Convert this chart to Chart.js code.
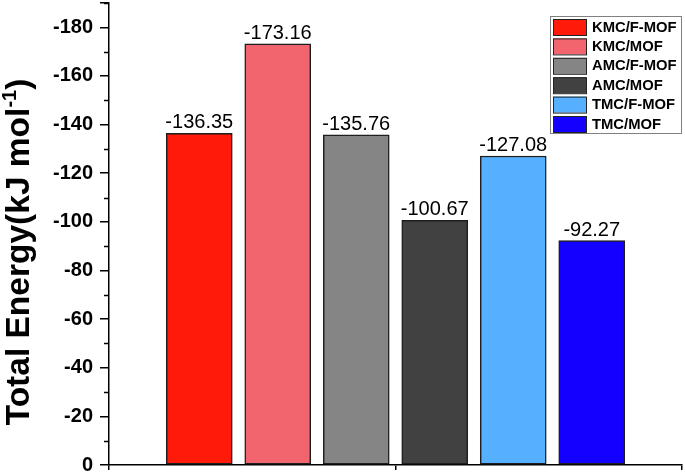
<!DOCTYPE html>
<html>
<head>
<meta charset="utf-8">
<script src="https://cdn.jsdelivr.net/npm/chart.js@4/dist/chart.umd.min.js"></script>
<style>
  html, body { margin: 0; padding: 0; background: #fff; }
  #wrap { width: 685px; height: 475px; }
</style>
</head>
<body>
<div id="wrap"><canvas id="chart"></canvas></div>
<script>
const FONT = "Arial, 'Liberation Sans', sans-serif";

// data
const labels = ['KMC/F-MOF', 'KMC/MOF', 'AMC/F-MOF', 'AMC/MOF', 'TMC/F-MOF', 'TMC/MOF'];
const energies = [-136.35, -173.16, -135.76, -100.67, -127.08, -92.27];
const positions = [1, 2, 3, 4, 5, 6];
const colors = ['#ff1a0a', '#f2646e', '#858585', '#414141', '#56b0ff', '#1400ff'];
const yMin = -190, yMax = 0;
const xTicks = [-0.15, 3.5, 7.15];

const datasets = labels.map((name, i) => ({
  label: name,
  data: [{ x: positions[i], y: energies[i] }],
  backgroundColor: colors[i],
  borderColor: '#1e1e1e',
  borderWidth: 1.5,
  borderSkipped: false,
  barThickness: 66,
  grouped: false,
}));

// value labels, minor ticks, title, legend box
const extras = {
  id: 'extras',
  afterDatasetsDraw(chart) {
    const { ctx } = chart;
    const ys = chart.scales.y;
    ctx.save();
    ctx.fillStyle = '#000';
    ctx.font = '20px ' + FONT;
    ctx.textAlign = 'center';
    ctx.textBaseline = 'alphabetic';
    chart.data.datasets.forEach((ds, i) => {
      const el = chart.getDatasetMeta(i).data[0];
      ctx.fillText(ds.data[0].y.toFixed(2), el.x, el.y - 5);
    });

    // minor ticks
    ctx.strokeStyle = '#000';
    ctx.lineWidth = 1.5;
    for (let v = yMin; v < yMax; v += 20) {
      const py = Math.round(ys.getPixelForValue(v)) + 0.5;
      ctx.beginPath();
      ctx.moveTo(ys.right - 5, py);
      ctx.lineTo(ys.right, py);
      ctx.stroke();
    }

    // axis title with superscript
    ctx.translate(29, 252);
    ctx.rotate(-Math.PI / 2);
    const main = 'Total Energy(kJ mol';
    const sup = '-1';
    const close = ')';
    ctx.font = 'bold 33.5px ' + FONT;
    const w1 = ctx.measureText(main).width;
    const w3 = ctx.measureText(close).width;
    ctx.font = 'bold 20px ' + FONT;
    const w2 = ctx.measureText(sup).width;
    let x = -(w1 + w2 + w3) / 2;
    ctx.textAlign = 'left';
    ctx.font = 'bold 33.5px ' + FONT;
    ctx.fillText(main, x, 0);
    x += w1;
    ctx.font = 'bold 20px ' + FONT;
    ctx.fillText(sup, x, -13);
    x += w2;
    ctx.font = 'bold 33.5px ' + FONT;
    ctx.fillText(close, x, 0);
    ctx.restore();

    // legend
    ctx.save();
    ctx.strokeStyle = '#808080';
    ctx.lineWidth = 1;
    ctx.fillStyle = '#fff';
    ctx.fillRect(550.5, 16.5, 131, 117);
    ctx.strokeRect(550.5, 16.5, 131, 117);
    ctx.font = 'bold 14.8px ' + FONT;
    ctx.textBaseline = 'middle';
    chart.data.datasets.forEach((ds, i) => {
      const top = 19 + i * 19.4;
      ctx.fillStyle = ds.backgroundColor;
      ctx.fillRect(553, top, 33, 16);
      ctx.strokeStyle = '#222';
      ctx.strokeRect(553.5, top + 0.5, 33, 16);
      ctx.fillStyle = '#000';
      ctx.fillText(ds.label, 592, top + 8.5);
    });
    ctx.restore();
  }
};

new Chart(document.getElementById('chart'), {
  type: 'bar',
  data: { datasets },
  options: {
    responsive: true,
    maintainAspectRatio: false,
    animation: false,
    layout: { padding: { top: 3, right: 3, left: 0, bottom: 0 } },
    plugins: { legend: { display: false }, tooltip: { enabled: false } },
    scales: {
      x: {
        type: 'linear',
        offset: false,
        min: xTicks[0], max: xTicks[xTicks.length - 1],
        afterBuildTicks: (s) => { s.ticks = xTicks.map((v) => ({ value: v })); },
        afterFit: (s) => { s.height = 10; s.paddingLeft = 0; s.paddingRight = 0; },
        ticks: { display: false },
        grid: { offset: false, drawOnChartArea: false, tickLength: 5, color: '#000', lineWidth: 1.5 },
        border: { color: '#000', width: 1.5 },
      },
      y: {
        reverse: true,
        min: yMin, max: yMax,
        afterFit: (s) => { s.width = 109; s.paddingTop = 0; s.paddingBottom = 0; },
        ticks: {
          stepSize: 20,
          color: '#000',
          padding: 7,
          font: { family: FONT, size: 20, weight: 'bold' },
          callback: (v) => (v === yMin ? '' : v),
        },
        grid: { drawOnChartArea: false, tickLength: 9, color: '#000', lineWidth: 1.5 },
        border: { color: '#000', width: 1.5 },
      },
    },
  },
  plugins: [extras],
});
</script>
</body>
</html>
